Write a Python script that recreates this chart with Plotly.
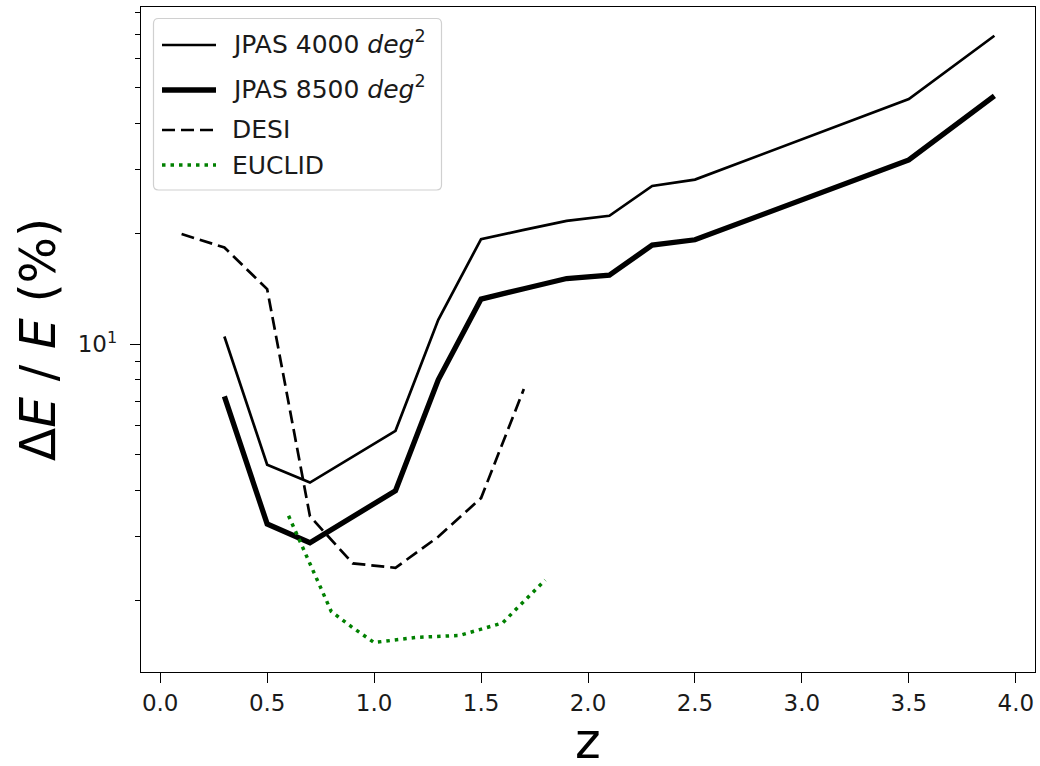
import plotly.graph_objects as go

# Redshift bins and fractional errors (%) for each survey
z_jpas = [0.3, 0.5, 0.7, 0.9, 1.1, 1.3, 1.5, 1.7, 1.9, 2.1, 2.3, 2.5, 3.5, 3.9]
err_jpas_4000 = [10.5, 4.70, 4.20, 4.94, 5.81, 11.66, 19.35, 20.5, 21.7, 22.4, 27.0, 28.1, 46.6, 69.3]
err_jpas_8500 = [7.21, 3.24, 2.88, 3.39, 3.99, 8.00, 13.28, 14.17, 15.11, 15.44, 18.63, 19.27, 31.8, 47.5]

z_desi = [0.1, 0.3, 0.5, 0.7, 0.9, 1.1, 1.3, 1.5, 1.7]
err_desi = [19.97, 18.36, 14.14, 3.40, 2.53, 2.46, 2.99, 3.81, 7.55]

z_euclid = [0.6, 0.7, 0.8, 0.9, 1.0, 1.2, 1.4, 1.6, 1.8]
err_euclid = [3.41, 2.53, 1.87, 1.69, 1.54, 1.59, 1.61, 1.74, 2.28]

series_names = ["JPAS 4000 <i>deg</i><sup>2</sup>", "JPAS 8500 <i>deg</i><sup>2</sup>", "DESI", "EUCLID"]

y_minor = [2, 3, 4, 5, 6, 7, 8, 9, 20, 30, 40, 50, 60, 70, 80]
x_ticks = [0.0, 0.5, 1.0, 1.5, 2.0, 2.5, 3.0, 3.5, 4.0]

FONT = "DejaVu Sans"
W, H = 1040, 766
ML, MR, MT, MB = 141, 5, 7, 94
PW, PH = W - ML - MR, H - MT - MB

styles = [
    dict(color="black", width=2.7),
    dict(color="black", width=5.3),
    dict(color="black", width=2.7, dash="13px,6px"),
    dict(color="green", width=3.5, dash="3.5px,5px"),
]

fig = go.Figure()
for xs, ys, name, st in zip([z_jpas, z_jpas, z_desi, z_euclid],
                            [err_jpas_4000, err_jpas_8500, err_desi, err_euclid],
                            series_names, styles):
    fig.add_trace(go.Scatter(x=xs, y=ys, mode="lines", name=name, line=st, showlegend=False))


def px(xp):
    return (xp - ML) / PW


def py(yp):
    return (MT + PH - yp) / PH


# Legend panel with rounded corners, drawn in figure pixels
bx0, bx1, by0, by1, r = 153.5, 441.5, 18.5, 190, 5


def rounded_box(x0, y0, x1, y1, rad):
    pts = [
        f"M {px(x0 + rad)},{py(y0)}",
        f"L {px(x1 - rad)},{py(y0)}",
        f"Q {px(x1)},{py(y0)} {px(x1)},{py(y0 + rad)}",
        f"L {px(x1)},{py(y1 - rad)}",
        f"Q {px(x1)},{py(y1)} {px(x1 - rad)},{py(y1)}",
        f"L {px(x0 + rad)},{py(y1)}",
        f"Q {px(x0)},{py(y1)} {px(x0)},{py(y1 - rad)}",
        f"L {px(x0)},{py(y0 + rad)}",
        f"Q {px(x0)},{py(y0)} {px(x0 + rad)},{py(y0)} Z",
    ]
    return " ".join(pts)


shapes = [dict(type="path", xref="paper", yref="paper", path=rounded_box(bx0, by0, bx1, by1, r),
               fillcolor="rgba(255,255,255,0.8)", line=dict(color="#d0d0d0", width=1.2), layer="above")]
annotations = []
row_y = [45, 90, 130, 165]
text_dy = [-3, -3, 0, 0]
for name, st, yy, dy in zip(series_names, styles, row_y, text_dy):
    shapes.append(dict(type="line", xref="paper", yref="paper",
                       x0=px(162), x1=px(216), y0=py(yy), y1=py(yy),
                       line=st, layer="above"))
    annotations.append(dict(text=name, xref="paper", yref="paper", x=px(230), y=py(yy + dy),
                            xanchor="left", yanchor="middle", showarrow=False,
                            font=dict(family=FONT, size=25, color="#1a1a1a")))

# x-axis label placed below the tick labels
annotations.append(dict(text="z", xref="paper", yref="paper", x=0.5, y=py(742),
                        xanchor="center", yanchor="middle", showarrow=False,
                        font=dict(family=FONT, size=49, color="black")))

fig.update_layout(
    width=W, height=H,
    margin=dict(l=ML, r=MR, t=MT, b=MB, autoexpand=False),
    paper_bgcolor="white", plot_bgcolor="white",
    font=dict(family=FONT, size=23, color="black"),
    showlegend=False,
    shapes=shapes,
    annotations=annotations,
)

fig.update_xaxes(
    range=[-0.0898, 4.0898],
    tickvals=x_ticks, ticktext=[f"{v:.1f}" for v in x_ticks],
    ticks="outside", ticklen=10, tickwidth=1.3, tickcolor="black",
    showline=True, linecolor="black", linewidth=1.3, mirror=True,
    showgrid=False, zeroline=False, automargin=False,
    tickfont=dict(family=FONT, size=23, color="#1a1a1a"),
)
fig.update_yaxes(
    type="log",
    range=[0.1071, 1.9191],
    tickvals=[10], ticktext=["10<sup>1</sup>"],
    ticks="outside", ticklen=10, tickwidth=1.3, tickcolor="black",
    ticklabelstandoff=8,
    minor=dict(tickvals=y_minor, ticks="outside", ticklen=5, tickwidth=1.1, tickcolor="black", showgrid=False),
    showline=True, linecolor="black", linewidth=1.3, mirror=True,
    showgrid=False, zeroline=False, automargin=False,
    tickfont=dict(family=FONT, size=23, color="#1a1a1a"),
    title=dict(text="Δ<i>E</i> / <i>E</i> (%)", font=dict(family=FONT, size=49, color="black"), standoff=6),
)

fig.write_html("out.html")
